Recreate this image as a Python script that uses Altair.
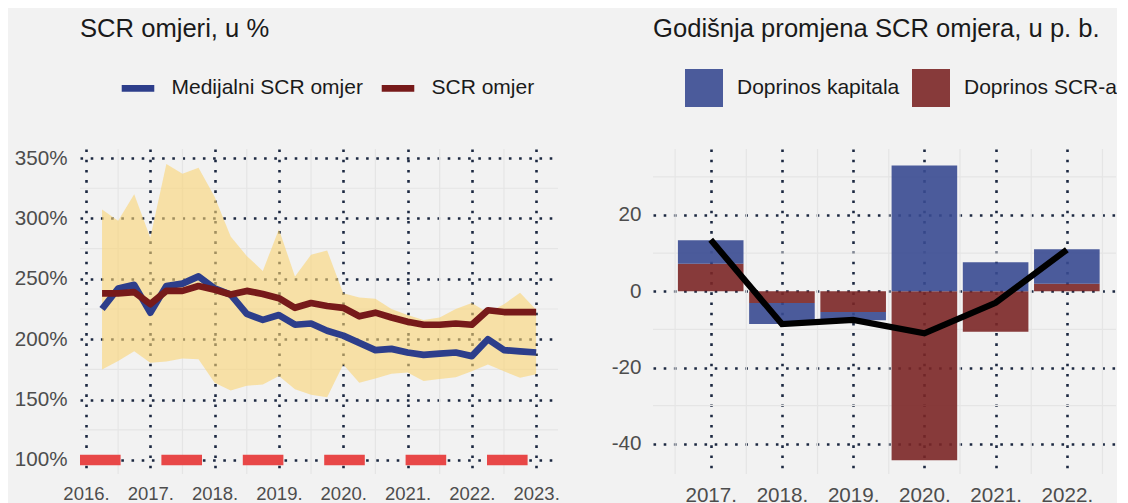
import altair as alt
import pandas as pd

FONT = "Liberation Sans"

# ---------------- Left panel data: SCR ratios, quarterly ----------------
quarters = [2016.25, 2016.5, 2016.75, 2017.0, 2017.25, 2017.5, 2017.75, 2018.0,
            2018.25, 2018.5, 2018.75, 2019.0, 2019.25, 2019.5, 2019.75, 2020.0,
            2020.25, 2020.5, 2020.75, 2021.0, 2021.25, 2021.5, 2021.75, 2022.0,
            2022.25, 2022.5, 2022.75, 2023.0]
median_ratio = [225, 242, 245, 222, 244, 246, 252, 242, 237, 221, 216, 220, 212, 213,
                207, 203, 197, 191, 192, 189, 187, 188, 189, 186, 200, 191, 190, 189]
scr_ratio = [238, 238, 239, 229, 240, 240, 244, 241, 237, 240, 237.5, 234, 226, 230,
             227.5, 226, 219, 222, 218, 214.5, 212, 212, 213, 212, 224, 222.5, 222.5, 222.5]
band_high = [307.5, 298, 320, 284, 345, 337, 342, 318, 285, 269, 256.5, 291, 252, 270,
             273.5, 238, 234.5, 233.5, 225, 220, 216, 218, 225, 230, 222, 229, 238.5, 224.5]
band_low = [175, 182, 190, 180.5, 181.5, 184, 183.5, 164, 157.5, 161.5, 162.5, 169.5, 158.5, 154,
            152, 179, 164, 167.5, 171.5, 172.5, 165.5, 167, 168.5, 173.5, 179, 173.5, 168, 171]
reference_level = [100]
line_series = ["Medijalni SCR omjer", "SCR omjer"]

left_x_ticks = [2016, 2017, 2018, 2019, 2020, 2021, 2022, 2023]
left_y_ticks = [100, 150, 200, 250, 300, 350]
left_minor_x = [2016.5, 2017.5, 2018.5, 2019.5, 2020.5, 2021.5, 2022.5]
left_minor_y = [125, 175, 225, 275, 325]

# ---------------- Right panel data: annual change, p.p. ----------------
bar_years = [2017, 2018, 2019, 2020, 2021, 2022]
capital_contrib = [6.2, -5.5, -2.2, 33.0, 7.6, 9.0]
scr_contrib = [7.2, -3.1, -5.4, -44.3, -10.6, 2.0]
total_change = [13.5, -8.6, -7.5, -11.0, -3.0, 10.9]
bar_series = ["Doprinos kapitala", "Doprinos SCR-a"]

right_x_ticks = [2017, 2018, 2019, 2020, 2021, 2022]
right_y_ticks = [-40, -20, 0, 20]
right_minor_x = [2016.5, 2017.5, 2018.5, 2019.5, 2020.5, 2021.5, 2022.5]
right_minor_y = [-30, -10, 10, 30]

LIGHT_GRID = "#E5E5E5"

# ---------------- Left chart ----------------
xL_scale = alt.Scale(domain=[2015.907, 2023.34], nice=False, zero=False)
yL_scale = alt.Scale(domain=[88.4, 357.5], nice=False, zero=False)
xL_axis = alt.Axis(values=left_x_ticks, labelExpr="datum.value + '.'", labelFontSize=18.5,
                   labelPadding=10, grid=True, title=None)
yL_axis = alt.Axis(values=left_y_ticks, labelExpr="datum.value + '%'", labelFontSize=20.6,
                   labelPadding=13, grid=True, title=None)

df_band = pd.DataFrame({"t": quarters, "low": band_low, "high": band_high})
df_lines = pd.DataFrame({
    "t": quarters + quarters,
    "value": median_ratio + scr_ratio,
    "series": [line_series[0]] * len(quarters) + [line_series[1]] * len(quarters),
})

minor_h_L = alt.Chart(pd.DataFrame({"v": left_minor_y})).mark_rule(
    color=LIGHT_GRID, strokeWidth=1.2).encode(y=alt.Y("v:Q", scale=yL_scale, axis=yL_axis))
minor_v_L = alt.Chart(pd.DataFrame({"t": left_minor_x})).mark_rule(
    color=LIGHT_GRID, strokeWidth=1.2).encode(x=alt.X("t:Q", scale=xL_scale, axis=xL_axis))

area = alt.Chart(df_band).mark_area(color="#FAD473", opacity=0.6).encode(
    x=alt.X("t:Q", scale=xL_scale, axis=xL_axis),
    y=alt.Y("low:Q", scale=yL_scale, axis=yL_axis),
    y2="high:Q",
)

hline = alt.Chart(pd.DataFrame({"level": reference_level})).mark_rule(
    color="#E84747", strokeWidth=10.5, strokeDash=[40.6, 40.8], strokeDashOffset=51
).encode(y=alt.Y("level:Q", scale=yL_scale, axis=yL_axis))

lines = alt.Chart(df_lines).mark_line(strokeWidth=6.7, strokeJoin="round").encode(
    x=alt.X("t:Q", scale=xL_scale, axis=xL_axis),
    y=alt.Y("value:Q", scale=yL_scale, axis=yL_axis),
    color=alt.Color("series:N",
                    scale=alt.Scale(domain=line_series, range=["#2D3E8B", "#771A1A"]),
                    legend=alt.Legend(title=None, orient="none", legendX=38, legendY=-81,
                                      direction="horizontal", symbolType="stroke",
                                      symbolSize=1060, symbolStrokeWidth=6.7,
                                      labelFontSize=21, labelOffset=13.5, columnPadding=5,
                                      labelLimit=400,
                                      labelColor="#1A1A1A", labelFont=FONT)),
)

left = alt.layer(minor_h_L, minor_v_L, area, hline, lines).properties(
    width=478, height=325,
    title=alt.TitleParams("SCR omjeri, u %", anchor="start", frame="group", fontSize=25.6,
                          fontWeight="normal", color="#1A1A1A", font=FONT, offset=25),
)

# ---------------- Right chart ----------------
xR_scale = alt.Scale(domain=[2016.26, 2022.62], nice=False, zero=False)
yR_scale = alt.Scale(domain=[-47.9, 37.3], nice=False, zero=False)
xR_axis = alt.Axis(values=right_x_ticks, labelExpr="datum.value + '.'", labelFontSize=20.6,
                   labelPadding=11, grid=True, title=None)
yR_axis = alt.Axis(values=right_y_ticks, labelExpr="'' + datum.value", labelFontSize=20.6,
                   labelPadding=12, grid=True, title=None)

rows = []
for yr, cap, scr in zip(bar_years, capital_contrib, scr_contrib):
    rows.append({"year": yr, "series": bar_series[1], "y0": 0.0, "y1": scr})
    base = scr if cap * scr > 0 else 0.0
    rows.append({"year": yr, "series": bar_series[0], "y0": base, "y1": base + cap})
df_bars = pd.DataFrame(rows)
df_total = pd.DataFrame({"year": bar_years, "total": total_change})

minor_h_R = alt.Chart(pd.DataFrame({"v": right_minor_y})).mark_rule(
    color=LIGHT_GRID, strokeWidth=1.2).encode(y=alt.Y("v:Q", scale=yR_scale, axis=yR_axis))
minor_v_R = alt.Chart(pd.DataFrame({"year": right_minor_x})).mark_rule(
    color=LIGHT_GRID, strokeWidth=1.2).encode(x=alt.X("year:Q", scale=xR_scale, axis=xR_axis))

bars = alt.Chart(df_bars).mark_bar(width=65.6, opacity=0.9).encode(
    x=alt.X("year:Q", scale=xR_scale, axis=xR_axis),
    y=alt.Y("y0:Q", scale=yR_scale, axis=yR_axis),
    y2="y1:Q",
    color=alt.Color("series:N",
                    scale=alt.Scale(domain=bar_series, range=["#384A91", "#7B2626"]),
                    legend=alt.Legend(title=None, orient="none", legendX=32, legendY=-80,
                                      direction="horizontal", symbolType="square",
                                      symbolSize=1444, symbolStrokeWidth=0, symbolOpacity=0.9,
                                      labelFontSize=21, labelOffset=14, columnPadding=12,
                                      labelLimit=400,
                                      labelColor="#1A1A1A", labelFont=FONT)),
)

total_line = alt.Chart(df_total).mark_line(color="black", strokeWidth=6.2).encode(
    x=alt.X("year:Q", scale=xR_scale, axis=xR_axis),
    y=alt.Y("total:Q", scale=yR_scale, axis=yR_axis),
)

right = alt.layer(minor_h_R, minor_v_R, bars, total_line).properties(
    width=463, height=325,
    title=alt.TitleParams("Godišnja promjena SCR omjera, u p. b.", anchor="start", frame="group",
                          fontSize=25.6, fontWeight="normal", color="#1A1A1A", font=FONT,
                          offset=26),
)

chart = alt.hconcat(left, right, spacing=47).resolve_scale(color="independent").properties(
    padding={"left": 6, "top": 9, "right": 0, "bottom": 0},
    background="#F2F2F2",
).configure_view(stroke=None).configure_axis(
    domain=False, ticks=False, tickSize=0, labelColor="#4D4D4D", labelFont=FONT,
    gridColor="#1C2841", gridDash=[2.6, 7.6], gridWidth=2.6, gridOpacity=1,
)

chart.save("out.html", embed_options={"renderer": "svg", "actions": False})
